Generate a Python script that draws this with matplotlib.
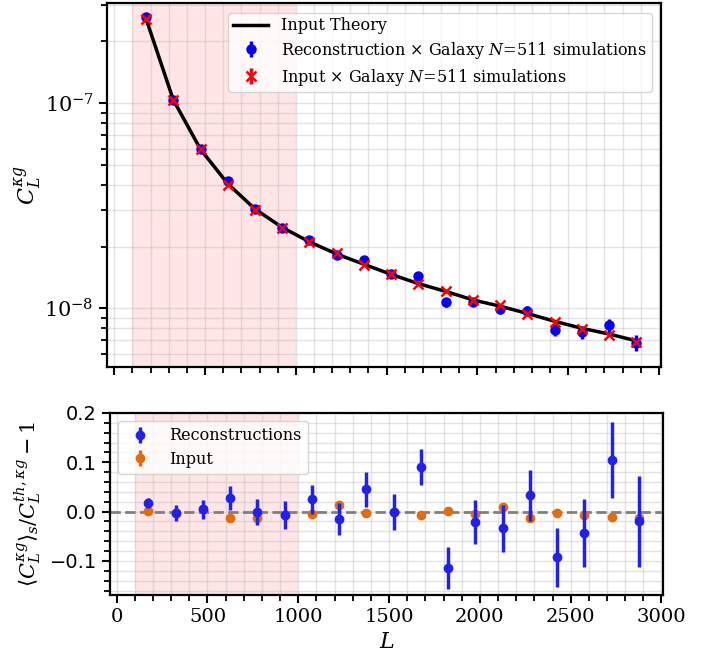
import matplotlib
matplotlib.use("Agg")
import matplotlib.pyplot as plt
from matplotlib.ticker import AutoMinorLocator, MultipleLocator

plt.rcParams['mathtext.fontset'] = 'dejavuserif'
plt.rcParams['font.family'] = 'DejaVu Sans'

# ---- data ----
L_centers = [175, 325, 475, 625, 775, 925, 1075, 1225, 1375, 1525,
             1675, 1825, 1975, 2125, 2275, 2425, 2575, 2725, 2875]
theory_cl = [2.58e-7, 1.038e-7, 5.96e-8, 4.05e-8, 3.05e-8, 2.48e-8, 2.11e-8,
             1.84e-8, 1.64e-8, 1.465e-8, 1.32e-8, 1.21e-8, 1.10e-8, 1.025e-8,
             9.45e-9, 8.65e-9, 8.0e-9, 7.5e-9, 6.95e-9]
recon_ratio = [0.017, -0.002, 0.005, 0.028, -0.001, -0.007, 0.025, -0.015, 0.045,
               -0.001, 0.090, -0.114, -0.021, -0.034, 0.033, -0.093, -0.043, 0.104, -0.020]
recon_err = [0.010, 0.016, 0.019, 0.024, 0.027, 0.029, 0.030, 0.032, 0.035, 0.037,
             0.037, 0.042, 0.045, 0.047, 0.051, 0.059, 0.069, 0.077, 0.093]
input_ratio = [0.001, -0.003, 0.005, -0.012, -0.013, -0.006, -0.005, 0.013, -0.003,
               -0.001, -0.007, 0.002, -0.005, 0.010, -0.012, -0.003, -0.007, -0.010, -0.012]
input_err = [0.002, 0.002, 0.002, 0.002, 0.002, 0.002, 0.002, 0.002, 0.002, 0.002,
             0.002, 0.002, 0.002, 0.002, 0.002, 0.002, 0.002, 0.002, 0.002]
span_range = [100, 1000]

recon_cl = [t * (1 + r) for t, r in zip(theory_cl, recon_ratio)]
recon_cl_err = [t * e for t, e in zip(theory_cl, recon_err)]
input_cl = [t * (1 + r) for t, r in zip(theory_cl, input_ratio)]
input_cl_err = [t * e for t, e in zip(theory_cl, input_err)]

BLUE = '#0000ff'
BLUE2 = '#2020f0'
ORANGE = '#e36c0a'
serif = 'DejaVu Serif'

fig = plt.figure(figsize=(7.14, 6.57), dpi=100)
ax1 = fig.add_axes([0.1499, 0.4414, 0.776, 0.554])
ax2 = fig.add_axes([0.154, 0.0944, 0.7745, 0.277])

# ---- top panel ----
ax1.axvspan(span_range[0], span_range[1], color='red', alpha=0.1, lw=0)
ax1.plot(L_centers, theory_cl, color='black', lw=2.5, label='Input Theory', zorder=3)
ax1.errorbar(L_centers, recon_cl, yerr=recon_cl_err, fmt='o', color=BLUE, ms=6.5,
             elinewidth=2.5, label=r'Reconstruction $\times$ Galaxy $N\!=\!511$ simulations', zorder=4)
ax1.errorbar(L_centers, input_cl, yerr=input_cl_err, fmt='x', color='red', ms=6.5, mew=1.8,
             elinewidth=2.5, label=r'Input $\times$ Galaxy $N\!=\!511$ simulations', zorder=5)
ax1.set_yscale('log')
ax1.set_xlim(-40, 3012)
ax1.set_ylim(5.18e-9, 3.076e-7)
ax1.xaxis.set_major_locator(MultipleLocator(500))
ax1.xaxis.set_minor_locator(MultipleLocator(100))
ax1.tick_params(axis='x', labelbottom=False)
ax1.grid(which='both', color='#bbbbbb', alpha=0.4, lw=1.0)
ax1.set_ylabel(r'$C_L^{\kappa g}$', fontsize=16, labelpad=0)
ax1.tick_params(axis='y', which='major', labelsize=15)
ax1.tick_params(which='major', length=6, width=1.5)
ax1.tick_params(which='minor', length=4, width=1.3)
fig.canvas.draw()
for lab in ax1.get_yticklabels():
    lab.set_family(serif)
for s in ax1.spines.values():
    s.set_linewidth(1.6)
ax1.legend(loc='upper right', prop={'family': serif, 'size': 11.5}, framealpha=0.8,
           handlelength=2.2, labelspacing=0.35, borderpad=0.3, borderaxespad=0.6)

# ---- bottom panel ----
ax2.axvspan(span_range[0], span_range[1], color='red', alpha=0.1, lw=0)
ax2.axhline(0, color='gray', ls='--', lw=2, zorder=2)
ax2.errorbar(L_centers, recon_ratio, yerr=recon_err, fmt='o', color=BLUE2, ms=6,
             elinewidth=2.5, label='Reconstructions', zorder=4)
ax2.errorbar(L_centers, input_ratio, yerr=input_err, fmt='o', color=ORANGE, ms=6,
             elinewidth=2.5, label='Input', zorder=3)
ax2.set_xlim(-37, 3008)
ax2.set_ylim(-0.169, 0.2)
ax2.xaxis.set_major_locator(MultipleLocator(500))
ax2.xaxis.set_minor_locator(MultipleLocator(100))
ax2.yaxis.set_major_locator(MultipleLocator(0.1))
ax2.yaxis.set_minor_locator(AutoMinorLocator(5))
ax2.grid(which='both', color='#bbbbbb', alpha=0.4, lw=1.0)
ax2.tick_params(which='major', length=6, width=1.5, labelsize=14)
ax2.tick_params(which='minor', length=4, width=1.3)
for s in ax2.spines.values():
    s.set_linewidth(1.6)
for lab in ax2.get_xticklabels():
    lab.set_family(serif)
ax2.set_xlabel(r'$L$', fontsize=16)
ax2.set_ylabel(r'$\langle C_L^{\kappa g}\rangle_s / C_L^{th,\kappa g} - 1$', fontsize=15)
ax2.legend(loc='upper left', prop={'family': serif, 'size': 11.5}, framealpha=0.8,
           labelspacing=0.4)

fig.savefig('out.png', dpi=100)
